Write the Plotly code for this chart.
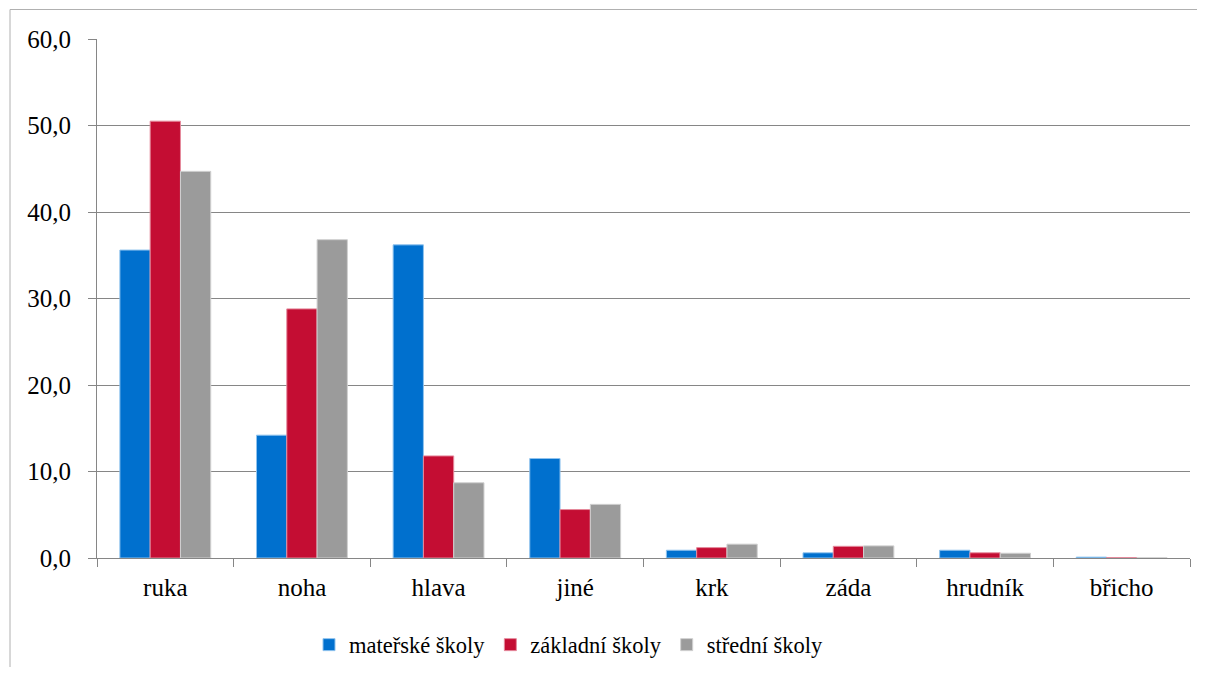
import plotly.graph_objects as go

categories = ["ruka", "noha", "hlava", "jiné", "krk", "záda", "hrudník", "břicho"]
materske = [35.6, 14.2, 36.2, 11.5, 0.9, 0.6, 0.9, 0.1]
zakladni = [50.5, 28.8, 11.8, 5.6, 1.2, 1.35, 0.6, 0.05]
stredni = [44.7, 36.8, 8.7, 6.2, 1.6, 1.4, 0.55, 0.02]
series_names = ["mateřské školy", "základní školy", "střední školy"]
colors = ["#0070CE", "#C40D33", "#9B9B9B"]
line_colors = ["#8FC3EE", "#E58A9C", "#D0D0D0"]

# page body has an 8px margin; figure coords = screen coords - 8
OFF = 8
W, H = 1205 - 2 * OFF, 675 - 2 * OFF
L, T = 97 - OFF, 39 - OFF
R = W - (1190 - OFF)
B = H - (558 - OFF)
pw, ph = W - L - R, H - T - B

def px_x(x):
    return (x - OFF - L) / pw

def px_y(y):
    return ((558 - OFF) - (y - OFF)) / ph

fig = go.Figure()
for name, vals, c, lc in zip(series_names, [materske, zakladni, stredni], colors, line_colors):
    fig.add_trace(go.Bar(x=categories, y=vals, name=name,
                         marker=dict(color=c, line=dict(color=lc, width=1))))

font = "Times New Roman, Liberation Serif, DejaVu Serif, serif"
FS = 25
LFS = 22.5
fig.update_layout(
    width=W, height=H,
    margin=dict(l=L, r=R, t=T, b=B, autoexpand=False),
    plot_bgcolor="white", paper_bgcolor="white",
    barmode="group", bargap=0.335, bargroupgap=0,
    separators=", ",
    font=dict(family=font, size=FS, color="black"),
    showlegend=True,
    legend=dict(orientation="h", x=px_x(309), xanchor="left", y=px_y(645),
                yanchor="middle", font=dict(family=font, size=LFS, color="black"),
                itemwidth=30, tracegroupgap=0, bgcolor="rgba(0,0,0,0)"),
    xaxis=dict(showline=True, linecolor="#868686", linewidth=1, automargin=False,
               ticks="outside", ticklen=8, tickcolor="#868686", tickson="boundaries",
               ticklabelstandoff=7,
               tickfont=dict(family=font, size=FS, color="black"), showgrid=False),
    yaxis=dict(range=[0, 60], dtick=10, tickformat=".1f", showline=True, automargin=False,
               linecolor="#868686", linewidth=1, ticks="outside", ticklen=8,
               tickcolor="#868686", gridcolor="#868686", gridwidth=1,
               ticklabelstandoff=12,
               tickfont=dict(family=font, size=FS, color="black"), zeroline=False),
    shapes=[dict(type="rect", xref="paper", yref="paper",
                 x0=px_x(10), x1=px_x(1210),
                 y0=px_y(700), y1=px_y(9.5),
                 line=dict(color="#B0B0B0", width=1), fillcolor="rgba(0,0,0,0)",
                 layer="below")],
)

fig.write_html("out.html")
